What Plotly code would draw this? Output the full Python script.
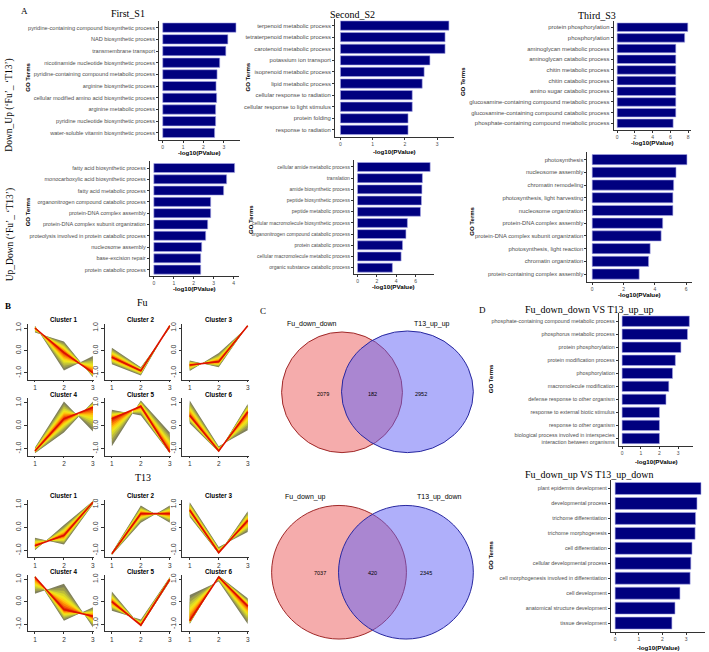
import plotly.graph_objects as go

W, H = 709, 652
def fx(p): return p / W
def fy(p): return 1 - p / H

# ---------------- DATA ----------------
s1_terms = ["pyridine-containing compound biosynthetic process", "NAD biosynthetic process",
            "transmembrane transport", "nicotinamide nucleotide biosynthetic process",
            "pyridine-containing compound metabolic process", "arginine biosynthetic process",
            "cellular modified amino acid biosynthetic process", "arginine metabolic process",
            "pyridine nucleotide biosynthetic process", "water-soluble vitamin biosynthetic process"]
s1_vals = [3.6, 3.2, 3.1, 2.8, 2.67, 2.62, 2.65, 2.6, 2.6, 2.55]

s2_terms = ["terpenoid metabolic process", "tetraterpenoid metabolic process", "carotenoid metabolic process",
            "potassium ion transport", "isoprenoid metabolic process", "lipid metabolic process",
            "cellular response to radiation", "cellular response to light stimulus",
            "protein folding", "response to radiation"]
s2_vals = [3.37, 3.25, 3.25, 2.78, 2.6, 2.54, 2.23, 2.23, 2.1, 2.1]

s3_terms = ["protein phosphorylation", "phosphorylation", "aminoglycan metabolic process",
            "aminoglycan catabolic process", "chitin metabolic process", "chitin catabolic process",
            "amino sugar catabolic process", "glucosamine-containing compound metabolic process",
            "glucosamine-containing compound catabolic process", "phosphate-containing compound metabolic process"]
s3_vals = [7.95, 7.6, 6.6, 6.6, 6.6, 6.6, 6.6, 6.6, 6.6, 6.3]

u1_terms = ["fatty acid biosynthetic process", "monocarboxylic acid biosynthetic process",
            "fatty acid metabolic process", "organonitrogen compound catabolic process",
            "protein-DNA complex assembly", "protein-DNA complex subunit organization",
            "proteolysis involved in protein catabolic process", "nucleosome assembly",
            "base-excision repair", "protein catabolic process"]
u1_vals = [4.05, 3.65, 3.5, 2.85, 2.85, 2.7, 2.6, 2.4, 2.35, 2.35]

u2_terms = ["cellular amide metabolic process", "translation", "amide biosynthetic process",
            "peptide biosynthetic process", "peptide metabolic process",
            "cellular macromolecule biosynthetic process", "organonitrogen compound catabolic process",
            "protein catabolic process", "cellular macromolecule metabolic process",
            "organic substance catabolic process"]
u2_vals = [7.5, 6.7, 6.65, 6.6, 6.5, 5.15, 5.0, 4.65, 4.5, 3.6]

u3_terms = ["photosynthesis", "nucleosome assembly", "chromatin remodeling",
            "photosynthesis, light harvesting", "nucleosome organization", "protein-DNA complex assembly",
            "protein-DNA complex subunit organization", "photosynthesis, light reaction",
            "chromatin organization", "protein-containing complex assembly"]
u3_vals = [6.05, 5.35, 5.2, 5.15, 5.15, 4.5, 4.4, 3.7, 3.6, 3.0]

d1_terms = ["phosphate-containing compound metabolic process", "phosphorus metabolic process",
            "protein phosphorylation", "protein modification process", "phosphorylation",
            "macromolecule modification", "defense response to other organism",
            "response to external biotic stimulus", "response to other organism",
            "biological process involved in interspecies<br>interaction between organisms"]
d1_vals = [3.6, 3.5, 3.15, 2.85, 2.7, 2.5, 2.35, 2.0, 2.0, 2.0]

d2_terms = ["plant epidermis development", "developmental process", "trichome differentiation",
            "trichome morphogenesis", "cell differentiation", "cellular developmental process",
            "cell morphogenesis involved in differentiation", "cell development",
            "anatomical structure development", "tissue development"]
d2_vals = [3.63, 3.46, 3.4, 3.38, 3.25, 3.2, 3.17, 2.74, 2.53, 2.4]

time_points = [1, 2, 3]
# cluster profiles: centre, extreme side A, extreme side B
fu_center = [[1.0, -0.1, -1.0], [-0.3, -0.9, 1.1], [-0.65, -0.5, 1.1],
             [-1.1, 0.3, 0.8], [0.3, 0.85, -1.15], [0.45, -1.1, 0.6]]
fu_sideA = [[0.8, 0.4, -1.2], [0.12, -0.75, 1.0], [-0.45, -0.75, 1.12],
            [-0.95, 1.05, -0.25], [0.7, 0.45, -1.2], [1.1, -0.9, -0.2]]
fu_sideB = [[1.1, -0.9, -0.25], [-0.62, -1.12, 1.15], [-0.92, -0.12, 1.05],
            [-1.2, -0.3, 1.05], [-0.9, 1.1, -0.3], [0.1, -1.15, 0.95]]
t13_center = [[-0.8, -0.35, 1.1], [-1.15, 0.6, 0.6], [0.75, -1.1, 0.3],
              [1.1, -0.35, -0.65], [0.0, -1.05, 1.0], [-0.85, 1.1, -0.2]]
t13_sideA = [[-0.45, -0.75, 1.0], [-1.1, 0.95, 0.2], [1.1, -0.85, -0.2],
             [0.35, 0.8, -1.15], [0.45, -1.1, 0.9], [0.3, 0.9, -1.0]]
t13_sideB = [[-1.0, 0.1, 1.15], [-1.2, 0.2, 0.95], [0.45, -1.15, 0.7],
             [1.15, -0.85, -0.25], [-0.4, -0.8, 1.1], [-1.0, 1.15, 0.15]]

venn1_names = ["Fu_down_down", "T13_up_up"]
venn1_counts = [2079, 182, 2952]
venn2_names = ["Fu_down_up", "T13_up_down"]
venn2_counts = [7037, 420, 2345]

# ---------------- FIGURE ----------------
fig = go.Figure()
layout = dict(width=W, height=H, margin=dict(l=0, r=0, t=0, b=0),
              paper_bgcolor="white", plot_bgcolor="white", showlegend=False, bargap=0.2)
annotations = []
shapes = []

SANS = "Liberation Sans, Arial, sans-serif"
SERIF = "Liberation Serif, Times New Roman, serif"

def ann(x, y, text, size, family=SANS, color="black", angle=0, xanchor="center", yanchor="middle"):
    annotations.append(dict(x=fx(x), y=fy(y), xref="paper", yref="paper", text=text, showarrow=False,
                            font=dict(size=size, family=family, color=color), textangle=angle,
                            xanchor=xanchor, yanchor=yanchor))

axis_idx = [0]
def new_axes(xdom_px, ydom_px):
    axis_idx[0] += 1
    i = axis_idx[0]
    xa = "xaxis" if i == 1 else f"xaxis{i}"
    ya = "yaxis" if i == 1 else f"yaxis{i}"
    xr = "x" if i == 1 else f"x{i}"
    yr = "y" if i == 1 else f"y{i}"
    layout[xa] = dict(domain=[fx(xdom_px[0]), fx(xdom_px[1])], anchor=yr)
    layout[ya] = dict(domain=[fy(ydom_px[1]), fy(ydom_px[0])], anchor=xr)
    return xa, ya, xr, yr

# bar charts: (terms, vals, x px range, bar top px, bar bottom px, dtick, x-title pos, GO label pos, label font)
bar_specs = [
    (s1_terms, s1_vals, (159.3, 240), 21, 136, 1, (200, 151), (28, 75), 5.6),
    (s2_terms, s2_vals, (335.5, 455), 19, 133, 1, (395, 149.5), (248, 75), 5.9),
    (s3_terms, s3_vals, (614.5, 692.3), 21, 126, 2, (653, 141), (463, 80), 5.9),
    (u1_terms, u1_vals, (150, 239), 162, 273, 1, (194.5, 287.5), (28, 210), 5.5),
    (u2_terms, u2_vals, (354.4, 434.4), 161, 271, 2, (394, 285.5), (252, 218), 5.0),
    (u3_terms, u3_vals, (588.3, 692.7), 153, 278, 2, (640, 293.5), (473, 220), 5.8),
    (d1_terms, d1_vals, (619.6, 693.7), 315, 443, 1, (657, 460.5), (492, 378), 5.4),
    (d2_terms, d2_vals, (611.7, 706.3), 482, 629, 1, (659, 647), (492, 555), 5.4),
]

for terms, vals, xpx, T, B, dt, tpos, gpos, fs in bar_specs:
    u = (B - T) / 9.8
    xa, ya, xr, yr = new_axes(xpx, (T - 0.2 * u, B + 0.2 * u))
    fig.add_trace(go.Bar(x=vals, y=terms, orientation="h", xaxis=xr, yaxis=yr,
                         marker=dict(color="#00007f", line=dict(color="#a8a8e8", width=0.6)),
                         hoverinfo="x+y"))
    m = max(vals)
    layout[xa].update(range=[-0.05 * m, 1.05 * m], dtick=dt, showgrid=False, zeroline=False,
                      showline=True, linecolor="#333333", linewidth=1, ticks="outside", ticklen=2,
                      tickcolor="#333333", tickfont=dict(size=5, family=SANS, color="#4d4d4d"))
    layout[ya].update(type="category", categoryorder="array", categoryarray=terms, range=[9.6, -0.6],
                      showgrid=False, zeroline=False, showline=True, linecolor="#333333", linewidth=1,
                      ticks="outside", ticklen=2, tickcolor="#333333",
                      tickfont=dict(size=fs, family=SANS, color="#4d4d4d"))
    ann(tpos[0], tpos[1], "<b>-log10(PValue)</b>", 6.2)
    ann(gpos[0], gpos[1], "<b>GO Terms</b>", 6, angle=-90)

# titles panel A / D
ann(128, 12, "First_S1", 10, SERIF)
ann(353, 13, "Second_S2", 10, SERIF)
ann(598, 14, "Third_S3", 10, SERIF)
ann(25, 9, "A", 9, SERIF)
ann(10, 103, "Down_Up (‘Fu’_ ‘T13’)", 9.5, SERIF, angle=-90)
ann(10, 233, "Up_Down (‘Fu’_ ‘T13’)", 9.5, SERIF, angle=-90)
ann(483, 309, "D", 9, SERIF)
ann(590, 308, "Fu_down_down VS T13_up_up", 10, SERIF)
ann(590, 474, "Fu_down_up VS T13_up_down", 10, SERIF)

# ---------------- Panel B: cluster fans ----------------
levels = [1.0, 0.86, 0.73, 0.61, 0.5, 0.4, 0.31, 0.23, 0.15, 0.08]
level_colors = ["#80805c", "#9d9d4c", "#bcbc3c", "#d8d82a", "#f0e41a", "#fcd010",
                "#ffae08", "#fb8406", "#f25808", "#e43006"]

col_px = [(27.75, 94.5), (104.75, 171.5), (182.75, 249.5)]
row_px = [(322.5, 378.75), (397.4, 454.9), (499.4, 556.9), (574.5, 630.75)]
title_y = [318, 393.5, 495, 571]

groups = [(fu_center, fu_sideA, fu_sideB, 0), (t13_center, t13_sideA, t13_sideB, 2)]
for centers, sa, sb, r0 in groups:
    for k in range(6):
        r = r0 + k // 3
        c = k % 3
        xa, ya, xr, yr = new_axes(col_px[c], row_px[r])
        cen, a, b = centers[k], sa[k], sb[k]
        for s, col in zip(levels, level_colors):
            ya_s = [cen[t] + s * (a[t] - cen[t]) for t in range(3)]
            yb_s = [cen[t] + s * (b[t] - cen[t]) for t in range(3)]
            fig.add_trace(go.Scatter(x=time_points + time_points[::-1], y=ya_s + yb_s[::-1],
                                     mode="lines", fill="toself", fillcolor=col,
                                     line=dict(width=0, color=col), xaxis=xr, yaxis=yr,
                                     hoverinfo="skip"))
        fig.add_trace(go.Scatter(x=time_points, y=cen, mode="lines", line=dict(color="#dd1100", width=1.6),
                                 xaxis=xr, yaxis=yr, hoverinfo="skip"))
        layout[xa].update(range=[0.75, 3.05], tickvals=[1, 2, 3], showgrid=False, zeroline=False,
                          showline=True, linecolor="#333333", linewidth=0.8, ticks="outside", ticklen=2,
                          tickcolor="#333333", tickfont=dict(size=6.5, family=SANS, color="#333333"))
        layout[ya].update(range=[-1.3, 1.2], tickvals=[-1, 0, 1], ticktext=["-1.0", "0.0", "1.0"],
                          tickangle=-90, showgrid=False, zeroline=False, showline=True,
                          linecolor="#333333", linewidth=0.8, ticks="outside", ticklen=3,
                          tickcolor="#333333", tickfont=dict(size=7, family=SANS, color="#333333"))
        cx = (col_px[c][0] + 0.25 / 2.3 * (col_px[c][1] - col_px[c][0])
              + (col_px[c][1] - col_px[c][0]) * 1 / 2.3)
        ann(cx, title_y[r], f"<b>Cluster {k + 1}</b>", 6.3)

ann(8, 305, "<b>B</b>", 9, SERIF)
ann(143, 301, "Fu", 10, SERIF)
ann(143, 477, "T13", 10, SERIF)

# ---------------- Panel C: Venn diagrams ----------------
ann(263, 310, "C", 9, SERIF)
venns = [
    (venn1_names, venn1_counts, (282, 403, 331, 452), (342, 474, 330, 452), 323, 393,
     (312, 433), (323, 373, 422)),
    (venn2_names, venn2_counts, (272, 407, 505, 639), (339, 474, 505, 639), 497, 573,
     (306, 440), (320, 373, 427)),
]
for names, counts, lc, rc, ly, ny, lx, nx in venns:
    shapes.append(dict(type="circle", xref="paper", yref="paper",
                       x0=fx(lc[0]), x1=fx(lc[1]), y0=fy(lc[3]), y1=fy(lc[2]),
                       fillcolor="rgba(235,90,90,0.5)", line=dict(color="#a02828", width=1)))
    shapes.append(dict(type="circle", xref="paper", yref="paper",
                       x0=fx(rc[0]), x1=fx(rc[1]), y0=fy(rc[3]), y1=fy(rc[2]),
                       fillcolor="rgba(95,95,245,0.5)", line=dict(color="#2828a0", width=1)))
    ann(lx[0], ly, names[0], 7)
    ann(lx[1], ly, names[1], 7)
    for xx, cnt in zip(nx, counts):
        ann(xx, ny, str(cnt), 5.5)

layout["annotations"] = annotations
layout["shapes"] = shapes
fig.update_layout(**layout)
fig.write_html("out.html")
